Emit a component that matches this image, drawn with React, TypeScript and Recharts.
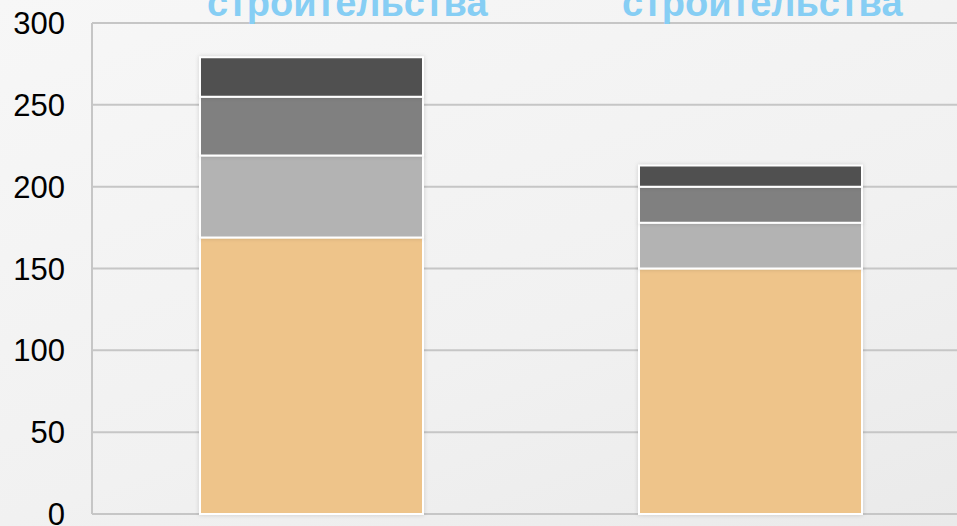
import React from 'react';
import { BarChart, Bar, XAxis, YAxis, CartesianGrid } from 'recharts';

const categories = ['Вариант 1', 'Вариант 2'];
const topLabels = ['строительства', 'строительства'];
const baseCost = [169, 150];
const lightPart = [50, 28];
const midPart = [36, 22];
const darkPart = [24, 13];
const yTicks = [0, 50, 100, 150, 200, 250, 300];

const data = categories.map((cat, i) => ({
    cat,
    base: baseCost[i],
    light: lightPart[i],
    mid: midPart[i],
    dark: darkPart[i],
}));

const edgeTicks = categories.map((_, i) => i).concat(categories.length);

const font = '"Liberation Sans", Arial, sans-serif';
const gridColor = '#c6c6c6';

// where the cut-off heading words sit (not data)
const labelX = [207, 622];

const App: React.FC = () => {
    return (
        <div
            style={{
                position: 'absolute',
                left: 0,
                top: 0,
                width: 957,
                height: 526,
                overflow: 'hidden',
                background: 'linear-gradient(160deg, #f7f7f7 0%, #f1f1f1 60%, #eaeaea 100%)',
                fontFamily: font,
            }}
        >
            <style>{`.recharts-bar-rectangle path { filter: drop-shadow(0 0 2px rgba(0,0,0,0.15)); }`}</style>
            <BarChart
                width={976}
                height={526}
                data={data}
                margin={{ top: 23, right: 6, left: 0, bottom: 0 }}
                barCategoryGap="24.6%"
            >
                <CartesianGrid vertical={false} stroke={gridColor} strokeWidth={2} />
                <XAxis dataKey="cat" hide />
                <XAxis
                    xAxisId="edges"
                    type="number"
                    domain={[0, categories.length]}
                    ticks={edgeTicks}
                    tick={false}
                    tickSize={12}
                    height={12}
                    axisLine={{ stroke: gridColor, strokeWidth: 2 }}
                    tickLine={{ stroke: gridColor, strokeWidth: 2 }}
                />
                <YAxis
                    domain={[0, 300]}
                    ticks={yTicks}
                    interval={0}
                    width={92}
                    tickSize={0}
                    tickMargin={27}
                    axisLine={{ stroke: gridColor, strokeWidth: 2 }}
                    tickLine={false}
                    tick={{ fill: '#000', fontSize: 31, fontFamily: font }}
                />
                <Bar dataKey="base" stackId="s" fill="#EEC48A" stroke="#fff" strokeWidth={2} isAnimationActive={false} />
                <Bar dataKey="light" stackId="s" fill="#B3B3B3" stroke="#fff" strokeWidth={2} isAnimationActive={false} />
                <Bar dataKey="mid" stackId="s" fill="#808080" stroke="#fff" strokeWidth={2} isAnimationActive={false} />
                <Bar dataKey="dark" stackId="s" fill="#505050" stroke="#fff" strokeWidth={2} isAnimationActive={false} />
            </BarChart>
            <svg width={957} height={30} style={{ position: 'absolute', left: 0, top: 0 }}>
                {topLabels.map((t, i) => (
                    <text
                        key={i}
                        x={labelX[i]}
                        y={16}
                        fill="#86CEF4"
                        fontSize={38}
                        fontWeight="bold"
                        fontFamily={font}
                    >
                        {t}
                    </text>
                ))}
            </svg>
        </div>
    );
};

export default App;
